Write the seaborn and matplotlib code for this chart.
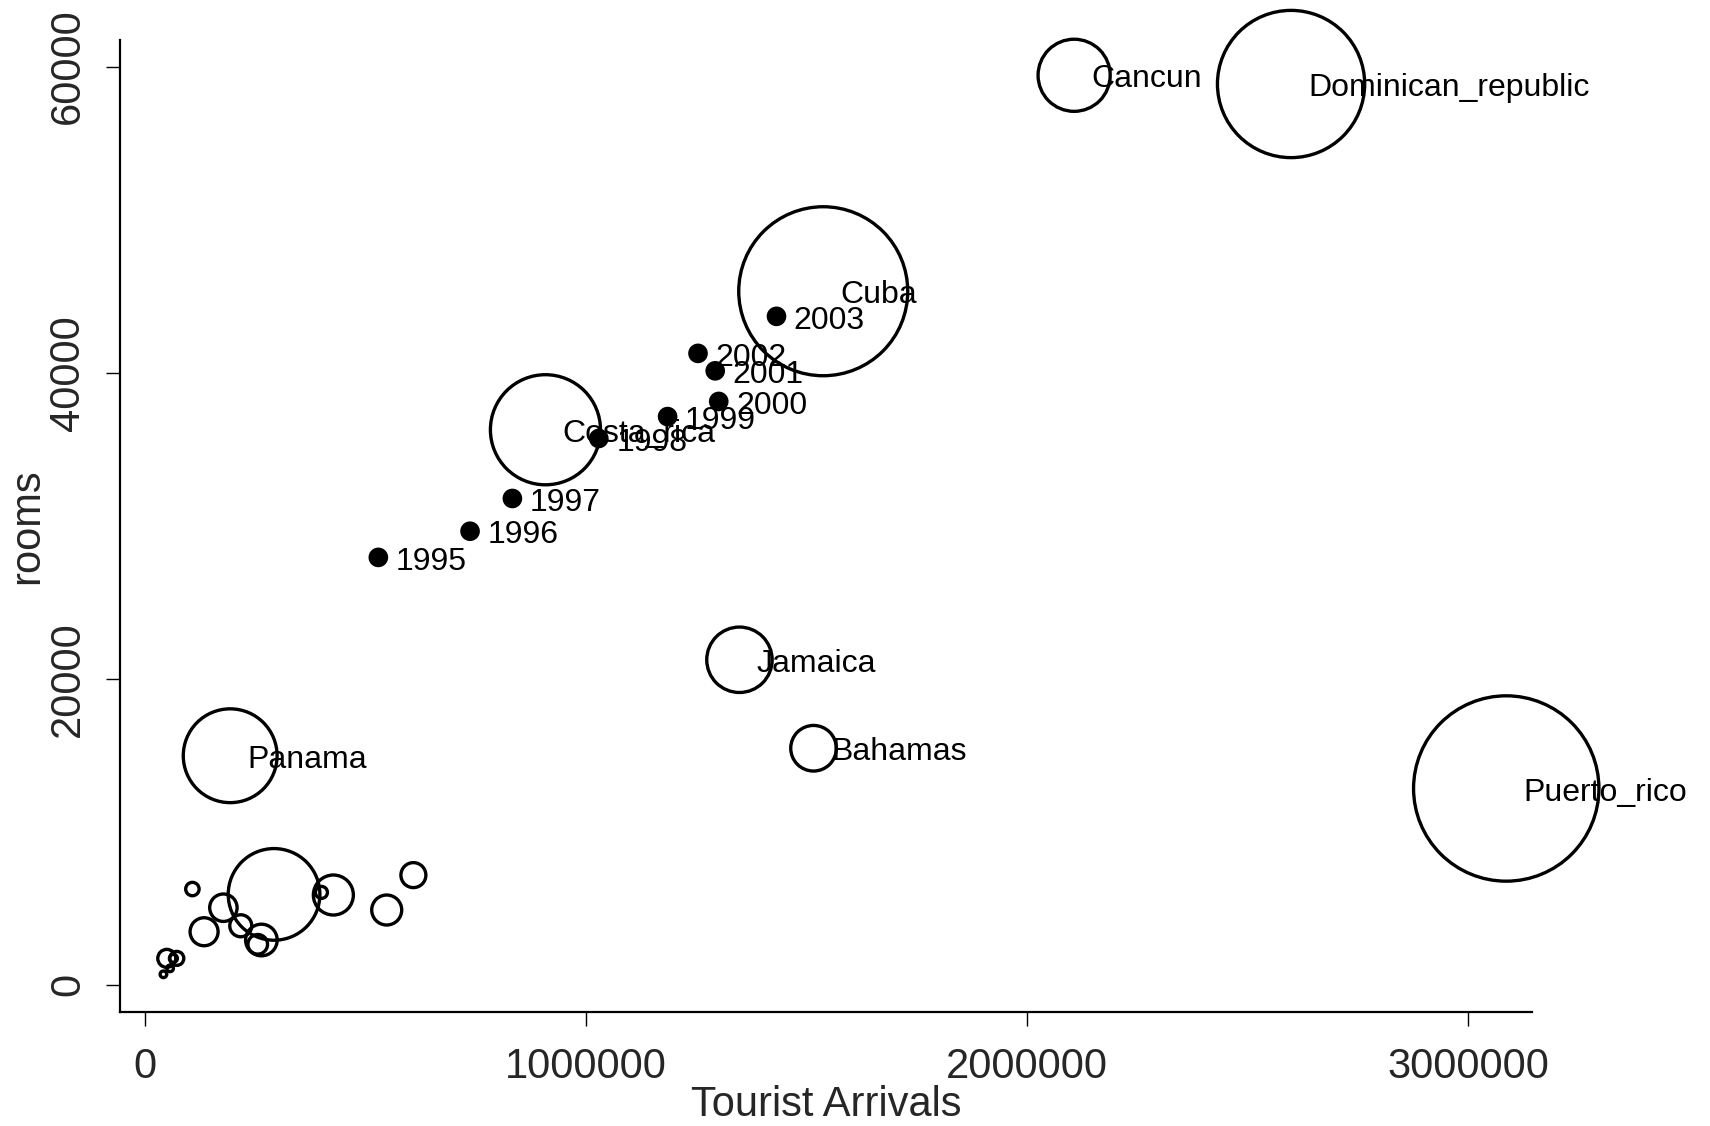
import matplotlib
matplotlib.use("Agg")
import matplotlib.pyplot as plt
import seaborn as sns
import pandas as pd

# yearly series (filled dots)
years = ["1995", "1996", "1997", "1998", "1999", "2000", "2001", "2002", "2003"]
year_arrivals = [529000, 737000, 833000, 1029000, 1185000, 1301000, 1293000, 1254000, 1432000]
year_rooms = [27930, 29640, 31780, 35700, 37130, 38120, 40120, 41260, 43680]

# destinations (hollow bubbles, weight sets the bubble area)
places = ["Cancun", "Dominican_republic", "Cuba", "Costa_rica", "Jamaica",
          "Bahamas", "Panama", "Puerto_rico",
          "", "", "", "", "", "", "", "", "", "", "", "", "", "", "", ""]
arrivals = [2107000, 2599000, 1538000, 908000, 1348000,
            1516000, 193000, 3087000,
            292500, 427000, 400000, 608500, 548000, 107300, 177600,
            133800, 217000, 263800, 255500, 49200, 71900, 56700, 41600, 64200]
rooms = [59430, 58860, 45320, 36270, 21240,
         15460, 14970, 12830,
         5910, 5870, 6040, 7170, 4890, 6260, 5040,
         3470, 3860, 2930, 2650, 1730, 1730, 1080, 690, 1730]
weight = [13.0, 54.2, 71.4, 30.3, 10.7,
          5.2, 22.0, 85.9,
          21.0, 4.0, 0.36, 1.56, 2.25, 0.45, 1.88,
          1.96, 1.21, 2.5, 0.96, 0.81, 0.49, 0.11, 0.11, 0.16]

sns.set_style("white")
plt.rcParams["font.family"] = ["Liberation Sans", "DejaVu Sans"]

fig = plt.figure(figsize=(17.1, 11.26), dpi=100)
ax = fig.add_axes([0.0702, 0.1012, 0.8257, 0.8632])

bubbles = pd.DataFrame({"arrivals": arrivals, "rooms": rooms, "weight": weight})
sns.scatterplot(data=bubbles, x="arrivals", y="rooms", size="weight",
                sizes=(0, 20736), size_norm=(0, 100), fc="none", ec="black",
                linewidth=2.4, legend=False, ax=ax, clip_on=False)

dots = pd.DataFrame({"arrivals": year_arrivals, "rooms": year_rooms})
sns.scatterplot(data=dots, x="arrivals", y="rooms", color="black", s=200,
                edgecolor="none", legend=False, ax=ax, clip_on=False)

# marker labels to the right of the centre
for name, x, y in zip(places + years, arrivals + year_arrivals, rooms + year_rooms):
    if name:
        ax.annotate(name, (x, y), xytext=(12.5, -3), textcoords="offset points",
                    ha="left", va="center", fontsize=23, color="black")

ax.set_xlim(-56800, 3145400)
ax.set_ylim(-1777, 61730)
ax.set_xticks([0, 1000000, 2000000, 3000000])
ax.set_yticks([0, 20000, 40000, 60000])
ax.set_xticklabels(["0", "1000000", "2000000", "3000000"])
ax.set_yticklabels(["0", "20000", "40000", "60000"], rotation=90, va="center")

sns.despine(ax=ax)
for side in ["left", "bottom"]:
    ax.spines[side].set_linewidth(1.6)
    ax.spines[side].set_color("black")
ax.tick_params(axis="both", direction="out", length=10, width=1, color="black",
               labelsize=30, bottom=True, left=True)
ax.tick_params(axis="x", pad=15)
ax.tick_params(axis="y", pad=13)

ax.set_xlabel("Tourist Arrivals", fontsize=30, va="top")
ax.xaxis.set_label_coords(0.5005, -0.075)
ax.set_ylabel("rooms", fontsize=30, va="center")
ax.yaxis.set_label_coords(-0.066, 0.5)

fig.savefig("out.png", dpi=100)
